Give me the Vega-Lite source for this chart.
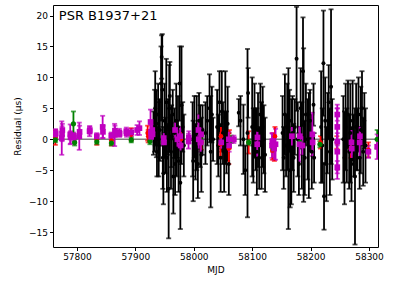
{
"$schema": "https://vega.github.io/schema/vega-lite/v6.json",
"width": 325, "height": 242,
"autosize": {"type": "none"},
"padding": {"left": 53, "top": 5, "right": 41, "bottom": 35},
"config": {"view": {"stroke": "black", "strokeWidth": 1}, "font": "DejaVu Sans",
  "axis": {"grid": false, "domain": false, "tickColor": "black", "tickSize": 3.5, "labelFontSize": 9, "titleFontSize": 9, "titleFontWeight": "normal", "labelColor": "black", "titleColor": "black", "labelPadding": 2, "labelOverlap": false},
  "axisY": {"labelOverlap": false}, "axisQuantitative": {"labelOverlap": false}},
"datasets": {"pts": [
{"m":57931,"r":1,"e":3.5,"g":"k"},{"m":57933,"r":3,"e":5,"g":"k"},{"m":57934,"r":5,"e":6,"g":"k"},{"m":57936,"r":2.5,"e":5.4,"g":"k"},{"m":57937,"r":-2,"e":4,"g":"k"},{"m":57939,"r":4,"e":5,"g":"k"},{"m":57940,"r":0,"e":6,"g":"k"},{"m":57942,"r":1.5,"e":5,"g":"k"},{"m":57944,"r":9,"e":6,"g":"k"},{"m":57946,"r":8,"e":9,"g":"k"},{"m":57945,"r":13.3,"e":3.5,"g":"k"},{"m":57947,"r":-3,"e":5,"g":"k"},{"m":57948,"r":-5.5,"e":5,"g":"k"},{"m":57950,"r":3,"e":6,"g":"k"},{"m":57951,"r":-1,"e":4.5,"g":"k"},{"m":57953,"r":6,"e":7,"g":"k"},{"m":57954,"r":-3,"e":5.5,"g":"k"},{"m":57956,"r":2,"e":4.5,"g":"k"},{"m":57957,"r":-8,"e":8,"g":"k"},{"m":57958,"r":5,"e":7,"g":"k"},{"m":57959,"r":7,"e":5.5,"g":"k"},{"m":57961,"r":-2,"e":6,"g":"k"},{"m":57962,"r":0.5,"e":5,"g":"k"},{"m":57964,"r":4,"e":4,"g":"k"},{"m":57965,"r":-6,"e":6,"g":"k"},{"m":57967,"r":1,"e":4,"g":"k"},{"m":57968,"r":-4,"e":5,"g":"k"},{"m":57970,"r":3,"e":6,"g":"k"},{"m":57971,"r":-1.5,"e":4.5,"g":"k"},{"m":57973,"r":2,"e":5,"g":"k"},{"m":57974,"r":-3.5,"e":5,"g":"k"},{"m":57976,"r":9,"e":6,"g":"k"},{"m":57977,"r":-7,"e":7.5,"g":"k"},{"m":57979,"r":5.5,"e":9.5,"g":"k"},{"m":57981,"r":2,"e":4,"g":"k"},{"m":57983,"r":-1,"e":5,"g":"k"},
{"m":57998,"r":0,"e":6,"g":"k"},{"m":57999,"r":-3.5,"e":6.5,"g":"k"},{"m":58001,"r":2,"e":5,"g":"k"},{"m":58003,"r":-2,"e":4.5,"g":"k"},{"m":58005,"r":1,"e":6,"g":"k"},{"m":58007,"r":-4,"e":5.5,"g":"k"},{"m":58009,"r":3,"e":4.5,"g":"k"},{"m":58011,"r":0.5,"e":5,"g":"k"},{"m":58013,"r":-2.5,"e":6,"g":"k"},{"m":58015,"r":1.5,"e":4,"g":"k"},
{"m":58020,"r":1,"e":5,"g":"k"},{"m":58023,"r":3,"e":4,"g":"k"},{"m":58027,"r":5,"e":5.5,"g":"k"},{"m":58029,"r":-2,"e":9,"g":"k"},{"m":58031,"r":4,"e":4.5,"g":"k"},{"m":58033,"r":0,"e":3.5,"g":"k"},
{"m":58040,"r":2,"e":6,"g":"k"},{"m":58042,"r":-1,"e":5,"g":"k"},{"m":58044,"r":6,"e":5,"g":"k"},{"m":58046,"r":-3,"e":5.5,"g":"k"},{"m":58048,"r":4.5,"e":6.5,"g":"k"},{"m":58050,"r":1,"e":5,"g":"k"},{"m":58052,"r":-2,"e":6.5,"g":"k"},{"m":58054,"r":3.5,"e":7.5,"g":"k"},{"m":58056,"r":-0.5,"e":5,"g":"k"},{"m":58058,"r":2.5,"e":6,"g":"k"},{"m":58060,"r":-4,"e":5,"g":"k"},
{"m":58077,"r":4.3,"e":2.2,"g":"k"},{"m":58080,"r":3,"e":4,"g":"k"},{"m":58085,"r":0,"e":5.6,"g":"k"},{"m":58088,"r":-5,"e":4,"g":"k"},{"m":58092,"r":1,"e":13.6,"g":"k"},{"m":58093,"r":7.5,"e":4,"g":"k"},
{"m":58100,"r":2,"e":8,"g":"k"},{"m":58102,"r":-1,"e":6,"g":"k"},{"m":58104,"r":3,"e":6,"g":"k"},{"m":58106,"r":0,"e":5,"g":"k"},{"m":58108,"r":-2,"e":7,"g":"k"},{"m":58110,"r":1.5,"e":6,"g":"k"},{"m":58112,"r":-3,"e":5,"g":"k"},{"m":58114,"r":4,"e":5,"g":"k"},{"m":58116,"r":-1,"e":7,"g":"k"},{"m":58118,"r":2,"e":6.5,"g":"k"},{"m":58120,"r":0,"e":5.5,"g":"k"},{"m":58122,"r":-2.5,"e":6,"g":"k"},
{"m":58152,"r":1,"e":6,"g":"k"},{"m":58154,"r":-3,"e":5,"g":"k"},{"m":58156,"r":4,"e":6.5,"g":"k"},{"m":58158,"r":-1,"e":5,"g":"k"},{"m":58160,"r":2,"e":7,"g":"k"},{"m":58162,"r":-1.5,"e":13,"g":"k"},{"m":58164,"r":3,"e":5,"g":"k"},{"m":58165,"r":-5,"e":6,"g":"k"},{"m":58167,"r":-2,"e":8.5,"g":"k"},{"m":58169,"r":1,"e":6,"g":"k"},{"m":58171,"r":-3,"e":5.5,"g":"k"},{"m":58173,"r":2,"e":4.5,"g":"k"},{"m":58176,"r":13,"e":8.4,"g":"k"},{"m":58178,"r":0,"e":6,"g":"k"},{"m":58180,"r":-4,"e":5,"g":"k"},{"m":58183,"r":5,"e":6.5,"g":"k"},{"m":58185,"r":-1,"e":7,"g":"k"},{"m":58187,"r":11,"e":8.7,"g":"k"},{"m":58188,"r":2.3,"e":12.4,"g":"k"},{"m":58190,"r":-3,"e":6,"g":"k"},{"m":58192,"r":4,"e":5,"g":"k"},{"m":58195,"r":0,"e":6.5,"g":"k"},{"m":58197,"r":-1,"e":8.5,"g":"k"},{"m":58199,"r":3,"e":5,"g":"k"},{"m":58202,"r":-2,"e":6,"g":"k"},{"m":58205,"r":5.6,"e":3.4,"g":"k"},{"m":58206,"r":-3,"e":4,"g":"k"},
{"m":58218,"r":2,"e":9,"g":"k"},{"m":58220,"r":-1,"e":6,"g":"k"},{"m":58222,"r":12.3,"e":8.5,"g":"k"},{"m":58223,"r":-9.2,"e":5.4,"g":"k"},{"m":58225,"r":3,"e":7,"g":"k"},{"m":58227,"r":-4,"e":6,"g":"k"},{"m":58229,"r":1,"e":6.5,"g":"k"},{"m":58231,"r":6,"e":6,"g":"k"},{"m":58233,"r":-2,"e":7,"g":"k"},{"m":58235,"r":8.5,"e":12.5,"g":"k"},{"m":58237,"r":0,"e":6.5,"g":"k"},
{"m":58256,"r":0,"e":7,"g":"k"},{"m":58258,"r":-3,"e":7.5,"g":"k"},{"m":58260,"r":2,"e":7,"g":"k"},{"m":58262,"r":-1,"e":6,"g":"k"},{"m":58264,"r":4,"e":5.5,"g":"k"},{"m":58266,"r":-2,"e":6,"g":"k"},{"m":58268,"r":1,"e":8,"g":"k"},{"m":58270,"r":-4,"e":6,"g":"k"},{"m":58272,"r":3,"e":6.5,"g":"k"},{"m":58274,"r":-1,"e":5,"g":"k"},{"m":58276,"r":-6,"e":11,"g":"k"},{"m":58278,"r":2,"e":7,"g":"k"},{"m":58280,"r":0,"e":5,"g":"k"},{"m":58282,"r":4,"e":6,"g":"k"},{"m":58284,"r":-3,"e":5,"g":"k"},{"m":58286,"r":1.5,"e":7,"g":"k"},{"m":58288,"r":5,"e":6,"g":"k"},{"m":58290,"r":-2,"e":5.5,"g":"k"},{"m":58292,"r":3,"e":4.5,"g":"k"},{"m":58294,"r":-1,"e":6,"g":"k"},
{"m":57763,"r":0.3,"e":1.2,"g":"r"},{"m":57834,"r":-0.1,"e":0.8,"g":"r"},{"m":57859,"r":-0.2,"e":0.8,"g":"r"},{"m":57893,"r":0.8,"e":1,"g":"r"},{"m":57921,"r":1,"e":1.2,"g":"r"},{"m":57922,"r":0.5,"e":1,"g":"r"},{"m":57978,"r":0,"e":1.2,"g":"r"},{"m":58013,"r":-0.5,"e":1.2,"g":"r"},{"m":58045.7,"r":-0.8,"e":2,"g":"r"},{"m":58046.5,"r":0.5,"e":1.5,"g":"r"},{"m":58060,"r":-1.5,"e":2.5,"g":"r"},{"m":58061,"r":0,"e":1.5,"g":"r"},{"m":58094,"r":-0.5,"e":1.8,"g":"r"},{"m":58134.5,"r":-1.8,"e":1.5,"g":"r"},{"m":58135.5,"r":-0.5,"e":1.5,"g":"r"},{"m":58138,"r":-1.5,"e":2,"g":"r"},{"m":58139,"r":0.5,"e":1.5,"g":"r"},{"m":58217,"r":-0.5,"e":1,"g":"r"},{"m":58245,"r":-0.5,"e":1,"g":"r"},{"m":58269,"r":-1.5,"e":1.5,"g":"r"},{"m":58299,"r":-1.7,"e":1.2,"g":"r"},
{"m":57763,"r":-0.1,"e":0.4,"g":"g"},{"m":57794,"r":2.5,"e":2,"g":"g"},{"m":57796,"r":-0.5,"e":0.5,"g":"g"},{"m":57834,"r":-0.4,"e":0.4,"g":"g"},{"m":57859,"r":-0.6,"e":0.4,"g":"g"},{"m":57893,"r":-0.1,"e":0.4,"g":"g"},{"m":57925,"r":-0.3,"e":0.5,"g":"g"},{"m":57949,"r":-0.5,"e":0.5,"g":"g"},{"m":58011,"r":0,"e":0.5,"g":"g"},{"m":58047,"r":-0.5,"e":0.5,"g":"g"},{"m":58064,"r":0,"e":0.6,"g":"g"},{"m":58094,"r":-0.5,"e":0.5,"g":"g"},{"m":58136,"r":-1.5,"e":0.6,"g":"g"},{"m":58182,"r":-0.5,"e":0.5,"g":"g"},{"m":58216,"r":-0.8,"e":0.5,"g":"g"},{"m":58314,"r":0,"e":1.5,"g":"g"},
{"m":57763,"r":0.8,"e":0.8,"g":"m"},{"m":57763.5,"r":1,"e":0.6,"g":"m"},{"m":57774,"r":0.2,"e":2.7,"g":"m"},{"m":57774.5,"r":0.9,"e":1.2,"g":"m"},{"m":57775,"r":1.5,"e":1,"g":"m"},{"m":57788.5,"r":0.8,"e":1.6,"g":"m"},{"m":57789,"r":0.3,"e":1,"g":"m"},{"m":57794,"r":0.6,"e":0.5,"g":"m"},{"m":57795,"r":0.3,"e":0.6,"g":"m"},{"m":57804,"r":0.5,"e":2.2,"g":"m"},{"m":57804.5,"r":1.2,"e":1,"g":"m"},{"m":57821.6,"r":1.3,"e":0.8,"g":"m"},{"m":57822,"r":1.5,"e":0.6,"g":"m"},{"m":57834,"r":0.5,"e":0.5,"g":"m"},{"m":57844,"r":2,"e":1.8,"g":"m"},{"m":57844.5,"r":1.2,"e":1,"g":"m"},{"m":57858.8,"r":0.6,"e":0.5,"g":"m"},{"m":57864.5,"r":0.7,"e":1.8,"g":"m"},{"m":57865,"r":1.4,"e":0.8,"g":"m"},{"m":57872.5,"r":1.1,"e":0.6,"g":"m"},{"m":57873,"r":0.9,"e":0.5,"g":"m"},{"m":57884.5,"r":1.3,"e":0.6,"g":"m"},{"m":57885,"r":1,"e":0.6,"g":"m"},{"m":57893,"r":1.1,"e":0.6,"g":"m"},{"m":57903,"r":1.5,"e":0.8,"g":"m"},{"m":57907,"r":1.8,"e":1.1,"g":"m"},{"m":57926,"r":2.8,"e":2,"g":"m"},{"m":57926.5,"r":1.2,"e":1.2,"g":"m"},{"m":57927,"r":0.4,"e":0.8,"g":"m"},{"m":57929,"r":1.5,"e":1,"g":"m"},{"m":57929.5,"r":0.8,"e":0.8,"g":"m"},{"m":57948.6,"r":0.2,"e":0.8,"g":"m"},{"m":57949,"r":-0.5,"e":0.6,"g":"m"},{"m":57968,"r":1.5,"e":1.2,"g":"m"},{"m":57972,"r":0,"e":1.5,"g":"m"},{"m":57977,"r":0.5,"e":1.5,"g":"m"},{"m":57977.5,"r":-1,"e":0.8,"g":"m"},{"m":57991,"r":-0.3,"e":1.2,"g":"m"},{"m":57991.5,"r":0.3,"e":1,"g":"m"},{"m":58008,"r":1.5,"e":2.5,"g":"m"},{"m":58008.5,"r":0,"e":1.5,"g":"m"},{"m":58012,"r":-0.5,"e":1.5,"g":"m"},{"m":58012.5,"r":0.8,"e":1,"g":"m"},{"m":58047,"r":-0.5,"e":1,"g":"m"},{"m":58060,"r":0,"e":1.2,"g":"m"},{"m":58060.5,"r":-1,"e":1,"g":"m"},{"m":58068.6,"r":0,"e":0.6,"g":"m"},{"m":58108.6,"r":-0.8,"e":2,"g":"m"},{"m":58109,"r":0.3,"e":1,"g":"m"},{"m":58134,"r":-1,"e":2,"g":"m"},{"m":58134.5,"r":-0.3,"e":1.2,"g":"m"},{"m":58137.5,"r":-1.5,"e":1.8,"g":"m"},{"m":58140,"r":-0.8,"e":2.5,"g":"m"},{"m":58168,"r":0.5,"e":1.5,"g":"m"},{"m":58181,"r":-0.8,"e":2.8,"g":"m"},{"m":58181.5,"r":0.5,"e":1.5,"g":"m"},{"m":58186,"r":-1,"e":1.5,"g":"m"},{"m":58203,"r":0.8,"e":3.5,"g":"m"},{"m":58203.5,"r":-0.5,"e":1.5,"g":"m"},{"m":58245.7,"r":-0.4,"e":6,"g":"m"},{"m":58245.7,"r":2,"e":3,"g":"m"},{"m":58245.7,"r":-2,"e":3,"g":"m"},{"m":58245.7,"r":4,"e":1,"g":"m"},{"m":58245.7,"r":-4.5,"e":1,"g":"m"},{"m":58270,"r":-0.5,"e":2,"g":"m"},{"m":58270.5,"r":-1.5,"e":1.5,"g":"m"},{"m":58284,"r":-0.5,"e":2.5,"g":"m"},{"m":58284.5,"r":0.5,"e":1,"g":"m"},{"m":58299,"r":-2,"e":1,"g":"m"},{"m":58314,"r":-1.2,"e":2,"g":"m"}
]},
"layer": [
 {"data": {"values": [{}]},
  "mark": {"type": "rule", "color": "#808080", "strokeWidth": 1.5},
  "encoding": {"y": {"datum": 0, "type": "quantitative", "title": "Residual (μs)", "scale": {"domain": [-17.4, 21.7], "nice": false, "zero": false}, "axis": {"tickCount": 8, "title": "Residual (μs)", "titlePadding": 6, "labelOverlap": false}}}},
 {"data": {"name": "pts"},
  "mark": {"type": "errorbar", "ticks": true, "thickness": 1.8, "clip": true},
  "encoding": {
   "x": {"field": "m", "type": "quantitative", "title": "MJD", "scale": {"domain": [57759, 58315.4], "nice": false, "zero": false}, "axis": {"values": [57800, 57900, 58000, 58100, 58200, 58300], "format": "d", "title": "MJD", "titlePadding": 4}},
   "y": {"field": "r", "type": "quantitative", "title": "Residual (μs)"},
   "yError": {"field": "e"},
   "color": {"field": "g", "type": "nominal", "scale": {"domain": ["k", "r", "g", "m"], "range": ["#000000", "#ff0000", "#008000", "#bf00bf"]}, "legend": null}
  }},
 {"data": {"name": "pts"},
  "mark": {"type": "point", "filled": true, "opacity": 1, "clip": true},
  "encoding": {
   "x": {"field": "m", "type": "quantitative", "title": "MJD"},
   "y": {"field": "r", "type": "quantitative", "title": "Residual (μs)"},
   "color": {"field": "g", "type": "nominal", "legend": null},
   "size": {"field": "g", "type": "nominal", "scale": {"domain": ["k", "r", "g", "m"], "range": [16, 32, 18, 24]}, "legend": null},
   "shape": {"field": "g", "type": "nominal", "scale": {"domain": ["k", "r", "g", "m"], "range": ["circle", "circle", "circle", "square"]}, "legend": null}
  }},
 {"data": {"values": [{}]},
  "mark": {"type": "text", "font": "DejaVu Sans", "fontSize": 13, "align": "left", "baseline": "middle", "color": "black"},
  "encoding": {"x": {"datum": 57769, "type": "quantitative", "title": "MJD"}, "y": {"datum": 19.9, "type": "quantitative", "title": "Residual (μs)"}, "text": {"value": "PSR B1937+21"}}}
]
}
